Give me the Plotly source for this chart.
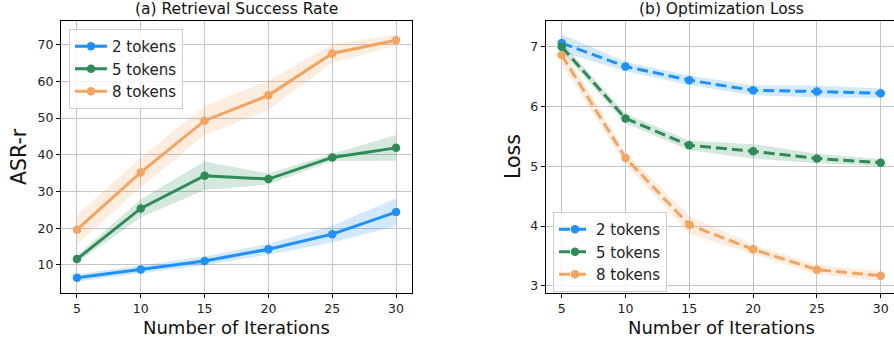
import plotly.graph_objects as go

iterations = [5, 10, 15, 20, 25, 30]
labels = ["2 tokens", "5 tokens", "8 tokens"]
colors = ["#1E90FF", "#2E8B57", "#F4A460"]
fills = ["rgba(30,144,255,0.2)", "rgba(46,139,87,0.2)", "rgba(244,164,96,0.2)"]

# (a) Retrieval Success Rate (ASR-r) mean and spread
asr_2 = [6.5, 8.8, 11.1, 14.3, 18.4, 24.4]
asr_2_err = [1.0, 1.0, 1.2, 1.5, 2.3, 3.8]
asr_5 = [11.6, 25.4, 34.3, 33.4, 39.3, 41.9]
asr_5_err = [1.0, 2.5, 3.9, 1.5, 1.0, 3.5]
asr_8 = [19.6, 35.2, 49.3, 56.2, 67.6, 71.2]
asr_8_err = [4.0, 4.0, 4.0, 4.0, 2.5, 1.5]

# (b) Optimization Loss mean and spread
loss_2 = [7.06, 6.67, 6.44, 6.27, 6.25, 6.22]
loss_2_err = [0.15, 0.08, 0.08, 0.08, 0.1, 0.08]
loss_5 = [7.0, 5.80, 5.35, 5.25, 5.13, 5.06]
loss_5_err = [0.08, 0.08, 0.08, 0.12, 0.08, 0.06]
loss_8 = [6.86, 5.14, 4.02, 3.61, 3.27, 3.17]
loss_8_err = [0.15, 0.1, 0.15, 0.08, 0.08, 0.08]

asr_ticks = [10, 20, 30, 40, 50, 60, 70]
loss_ticks = [3, 4, 5, 6, 7]

W, H = 894, 345
FONT = "DejaVu Sans"


def px(x):
    return x / W


def py(y):
    return 1 - y / H


fig = go.Figure()


def add_series(xax, yax, means, errs, legend, dash):
    for i, (m, e) in enumerate(zip(means, errs)):
        upper = [a + b for a, b in zip(m, e)]
        lower = [a - b for a, b in zip(m, e)]
        fig.add_trace(go.Scatter(
            x=iterations + iterations[::-1], y=upper + lower[::-1],
            fill="toself", fillcolor=fills[i], line=dict(width=0),
            mode="lines", hoverinfo="skip", showlegend=False,
            xaxis=xax, yaxis=yax))
    for i, m in enumerate(means):
        fig.add_trace(go.Scatter(
            x=iterations, y=m, mode="lines+markers", name=labels[i],
            line=dict(color=colors[i], width=3, dash=dash),
            marker=dict(color=colors[i], size=8.5),
            xaxis=xax, yaxis=yax, legend=legend))


add_series("x", "y", [asr_2, asr_5, asr_8], [asr_2_err, asr_5_err, asr_8_err], "legend", "solid")
add_series("x2", "y2", [loss_2, loss_5, loss_8], [loss_2_err, loss_5_err, loss_8_err], "legend2", "11px,5px")

axis_common = dict(
    showline=True, linecolor="black", linewidth=1, mirror=True,
    showgrid=True, gridcolor="#c4c4c4", gridwidth=1,
    ticks="outside", ticklen=4, tickcolor="black",
    tickfont=dict(family=FONT, size=12.5, color="#222"), zeroline=False,
)

legend_common = dict(
    xanchor="left", yanchor="top",
    bgcolor="rgba(255,255,255,0.8)", bordercolor="#cccccc", borderwidth=1,
    font=dict(family=FONT, size=15, color="#222"), itemwidth=32, tracegroupgap=0,
)

fig.update_layout(
    width=W, height=H,
    margin=dict(l=0, r=0, t=0, b=0),
    paper_bgcolor="white", plot_bgcolor="white",
    font=dict(family=FONT),
    xaxis=dict(domain=[px(61), px(412)], range=[3.75, 31.25], tickvals=iterations, anchor="y", **axis_common),
    yaxis=dict(domain=[py(293), py(21)], range=[2.37, 76.45], tickvals=asr_ticks, anchor="x", **axis_common),
    xaxis2=dict(domain=[px(545.7), 1.0], range=[3.75, 31.04], tickvals=iterations, anchor="y2", **axis_common),
    yaxis2=dict(domain=[py(293), py(21)], range=[2.88, 7.43], tickvals=loss_ticks, anchor="x2", **axis_common),
    legend=dict(x=px(69), y=py(29), **legend_common),
    legend2=dict(x=px(553), y=py(212), **legend_common),
)

ann = [
    dict(text="(a) Retrieval Success Rate", x=236.5, y=9, size=15.5, angle=0),
    dict(text="(b) Optimization Loss", x=721, y=9, size=15.5, angle=0),
    dict(text="Number of Iterations", x=236.5, y=327, size=18, angle=0),
    dict(text="Number of Iterations", x=721, y=327, size=18, angle=0),
    dict(text="ASR-r", x=19, y=157, size=20.5, angle=-90),
    dict(text="Loss", x=513, y=157, size=20.5, angle=-90),
]
for a in ann:
    fig.add_annotation(text=a["text"], x=px(a["x"]), y=py(a["y"]), xref="paper", yref="paper",
                       xanchor="center", yanchor="middle", showarrow=False, textangle=a["angle"],
                       font=dict(family=FONT, size=a["size"], color="#111"))

fig.write_html(
    "out.html",
    config={"displayModeBar": False},
    post_script="document.body.style.margin='0';document.body.style.overflow='hidden';",
)
